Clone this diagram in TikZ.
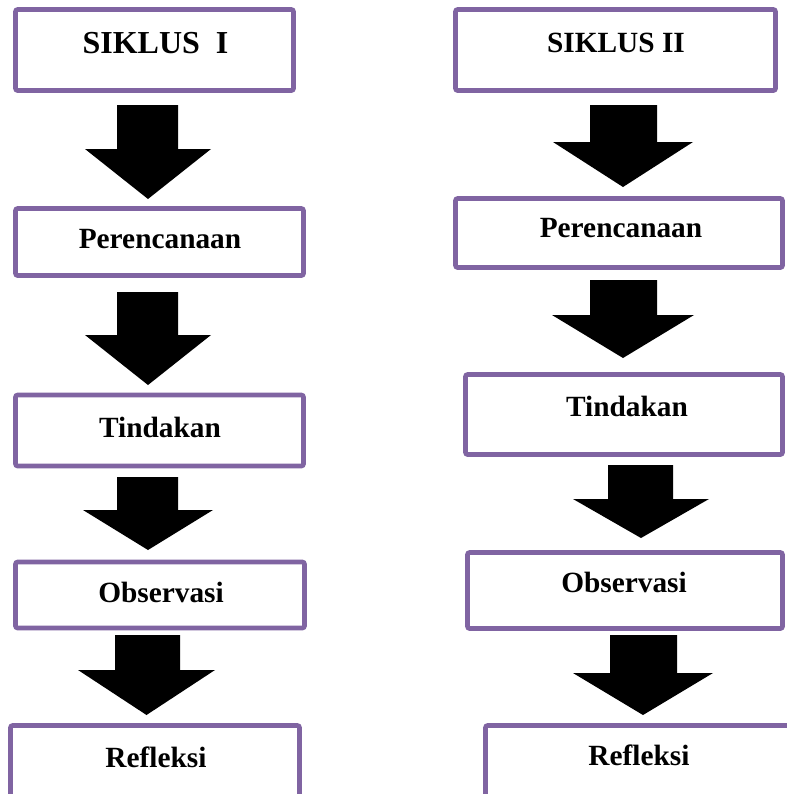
\documentclass[tikz,border=0pt]{standalone}
\usepackage{fontspec}
\setmainfont{Liberation Serif}
\definecolor{boxpurple}{HTML}{8064A2}
\newcommand\blockarrow[7]{%
  \fill[black] (#1,#3) -- (#2,#3) -- (#2,#4) -- (#6,#4) -- ({(#5+#6)/2},#7) -- (#5,#4) -- (#1,#4) -- cycle;}
\begin{document}
\begin{tikzpicture}[x=0.75pt,y=-0.75pt,
  box/.style={draw=boxpurple,line width=3.4pt,rounded corners=1.5pt,fill=white},
  lbl/.style={anchor=base,font=\fontsize{22}{26}\selectfont\bfseries,inner sep=0pt}]
\useasboundingbox (0,0) rectangle (787,794);
\clip (0,0) rectangle (787,794);
% left column
\draw[box] (15.5,9.5) rectangle (293.5,90.5);
\node[lbl,font=\fontsize{24}{28}\selectfont\bfseries] (s1) at (155.5,53) {SIKLUS\ \ I};
\draw[box] (15.5,208.5) rectangle (303.5,275.5);
\node[lbl] (p1) at (160,248) {Perencanaan};
\draw[box] (15.5,395) rectangle (303.5,466);
\node[lbl] (t1) at (160,437) {Tindakan};
\draw[box] (15.5,562) rectangle (304.5,628);
\node[lbl] (o1) at (161,602) {Observasi};
\draw[box] (10.5,725.5) rectangle (299.5,810);
\node[lbl] (r1) at (156,767) {Refleksi};
% right column
\draw[box] (455.5,9.5) rectangle (775.5,90.5);
\node[lbl] (s2) at (616,52) {SIKLUS II};
\draw[box] (455.5,198.5) rectangle (782.5,267.5);
\node[lbl] (p2) at (621,237) {Perencanaan};
\draw[box] (465.5,374.5) rectangle (782.5,454.5);
\node[lbl] (t2) at (627,416) {Tindakan};
\draw[box] (467.5,552.5) rectangle (782.5,628.5);
\node[lbl] (o2) at (624,592) {Observasi};
\draw[box] (485.5,725.5) rectangle (790,810);
\node[lbl] (r2) at (639,765) {Refleksi};
% arrows left
\blockarrow{117}{178}{105}{149}{85}{211}{199}
\blockarrow{117}{178}{292}{335}{85}{211}{385}
\blockarrow{117}{178}{477}{510}{83}{213}{550}
\blockarrow{115}{180}{635}{670}{78}{215}{715}
% arrows right
\blockarrow{590}{657}{105}{142}{553}{693}{187}
\blockarrow{590}{657}{280}{315}{552}{694}{358}
\blockarrow{608}{673}{465}{499}{573}{709}{538}
\blockarrow{610}{677}{635}{673}{573}{713}{715}
\end{tikzpicture}
\end{document}
